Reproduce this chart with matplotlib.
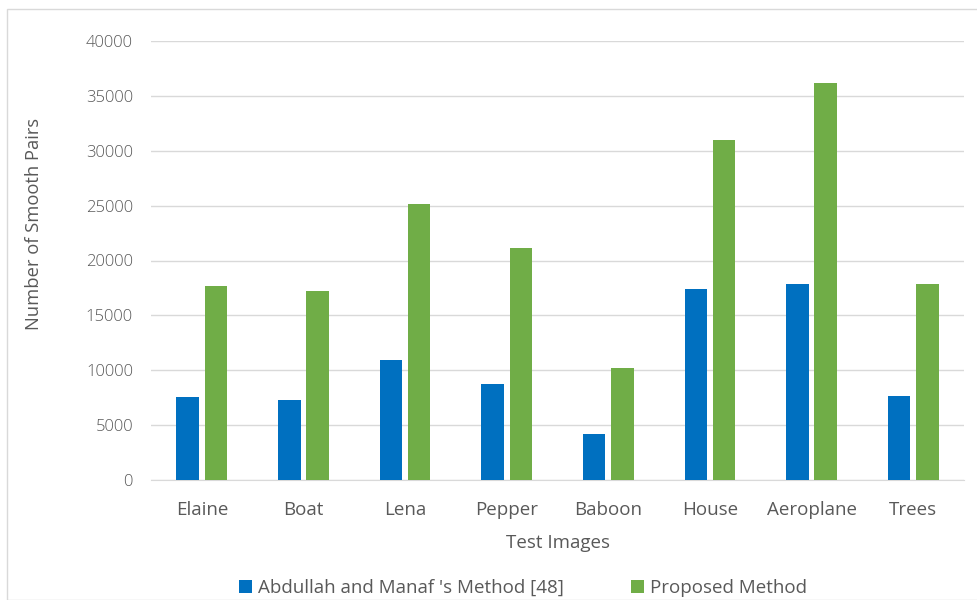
import numpy as np
import matplotlib
matplotlib.use('Agg')
from matplotlib import pyplot as plt
from matplotlib.patches import Rectangle

plt.rcParams['font.family'] = ['Open Sans', 'DejaVu Sans']

# 数据
images = ['Elaine', 'Boat', 'Lena', 'Pepper', 'Baboon', 'House', 'Aeroplane', 'Trees']
abdullah = [7600, 7250, 10900, 8750, 4200, 17400, 17850, 7650]
proposed = [17650, 17250, 25150, 21150, 10200, 30950, 36150, 17900]
yticks = [0, 5000, 10000, 15000, 20000, 25000, 30000, 35000, 40000]

blue = '#0070C0'
green = '#70AD47'
gray = '#595959'

fig = plt.figure(figsize=(9.77, 6), dpi=100)
ax = fig.add_axes([151 / 977, 0.2, (964 - 151) / 977, 0.8 - 41 / 600])

# 外边框
fig.patches.append(Rectangle((7 / 977, 0), 1, 1 - 9 / 600, transform=fig.transFigure,
                             fill=False, edgecolor='#d9d9d9', lw=1))

x = np.arange(len(images))
w = 0.222
ax.bar(x - 0.139, abdullah, w, color=blue, label="Abdullah and Manaf 's Method [48]", zorder=3)
ax.bar(x + 0.139, proposed, w, color=green, label='Proposed Method', zorder=3)

ax.set_xlim(-0.5, len(images) - 0.5)
ax.set_ylim(0, 40000)
ax.set_yticks(yticks)
ax.set_xticks(x)
ax.set_xticklabels(images)
ax.grid(axis='y', color='#d9d9d9', lw=1, zorder=0)
for s in ['top', 'right', 'left']:
    ax.spines[s].set_visible(False)
ax.spines['bottom'].set_color('#d9d9d9')
ax.tick_params(length=0, colors=gray)
ax.tick_params(axis='y', labelsize=12, pad=13)
ax.tick_params(axis='x', labelsize=13.5, pad=15)
for t in ax.get_yticklabels():
    t.set_fontweight('light')

ax.set_xlabel('Test Images', fontsize=13.5, color=gray, labelpad=11)
ax.set_ylabel('Number of Smooth Pairs', fontsize=13.2, color=gray)
ax.yaxis.set_label_coords(-0.133, 0.583)

ax.legend(loc='upper center', bbox_to_anchor=(0.4576, -0.187), ncol=2, frameon=False,
          fontsize=13.5, labelcolor=gray, handlelength=0.7, handleheight=0.7,
          handletextpad=0.3, columnspacing=3.6)

fig.savefig('out.png', dpi=100)
